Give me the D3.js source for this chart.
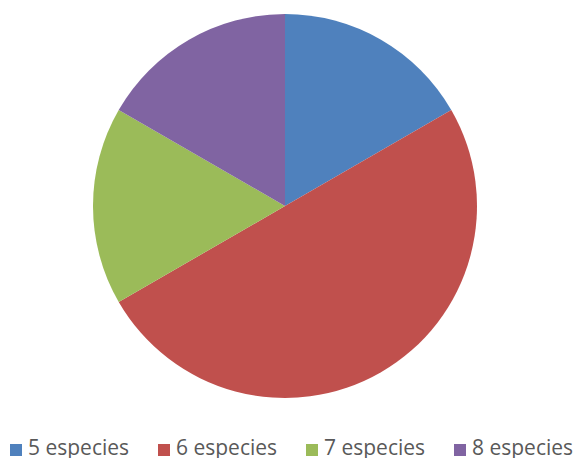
<!DOCTYPE html>
<html>
<head>
<meta charset="utf-8">
<script src="https://cdn.jsdelivr.net/npm/d3@7"></script>
<style>
  html, body { margin: 0; padding: 0; background: #fff; }
  svg { display: block; }
</style>
</head>
<body>
<svg id="chart" width="573" height="458"></svg>
<script>
// Number of sites per species-richness class
const categories = ["5 especies", "6 especies", "7 especies", "8 especies"];
const values = [1, 3, 1, 1];
const colors = ["#4F81BD", "#C0504D", "#9BBB59", "#8064A2"];

const svg = d3.select("#chart");
const cx = 285, cy = 206, radius = 192;

const color = d3.scaleOrdinal().domain(categories).range(colors);

const pie = d3.pie().sort(null).value(d => d.value);
const arc = d3.arc().innerRadius(0).outerRadius(radius);

const data = categories.map((c, i) => ({ category: c, value: values[i] }));

svg.append("g")
  .attr("transform", `translate(${cx},${cy})`)
  .selectAll("path")
  .data(pie(data))
  .join("path")
  .attr("d", arc)
  .attr("fill", d => color(d.data.category));

// Legend along the bottom edge
const legendX = d3.scalePoint().domain(categories).range([10, 454]);
const legend = svg.append("g")
  .selectAll("g")
  .data(categories)
  .join("g")
  .attr("transform", d => `translate(${legendX(d)},444)`);

legend.append("rect")
  .attr("width", 12)
  .attr("height", 12)
  .attr("fill", d => color(d));

legend.append("text")
  .attr("x", 18)
  .attr("y", 11)
  .attr("font-family", "'Open Sans', 'Liberation Sans', sans-serif")
  .attr("font-size", 21)
  .attr("fill", "#595959")
  .text(d => d);
</script>
</body>
</html>
